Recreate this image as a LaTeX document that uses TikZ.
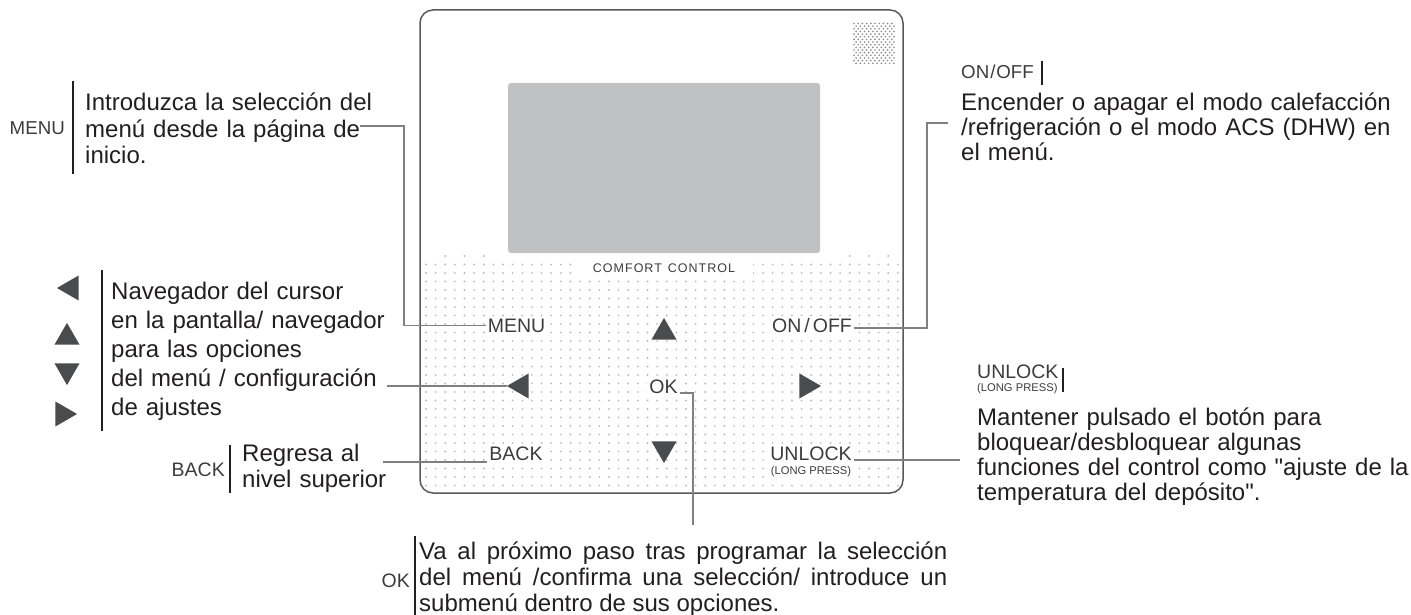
\documentclass[tikz,border=0pt]{standalone}
\usepackage{fontspec}
\setmainfont[Ligatures=TeXOff]{Liberation Sans}
\newfontfamily\brandfont[LetterSpace=8]{Liberation Sans}
\usetikzlibrary{shapes.geometric}
\definecolor{txtc}{HTML}{231F20}
\definecolor{lblc}{HTML}{3C3C3E}
\definecolor{linec}{HTML}{808080}
\definecolor{framec}{HTML}{58595B}
\definecolor{screenc}{HTML}{C0C1C3}
\definecolor{keyc}{HTML}{4A4B4D}
\definecolor{dotc}{HTML}{BDBDBD}
\definecolor{grillc}{HTML}{8F8F8F}
\begin{document}
\begin{tikzpicture}[x=1pt, y=-1pt,
        desc/.style={anchor=base west, inner sep=0, text=txtc, align=left},
        keylbl/.style={inner sep=0, text=lblc, font=\fontsize{18.7}{20}\selectfont},
        btn/.style={fill=white, inner sep=2pt, text=lblc, font=\fontsize{19.5}{21}\selectfont},
        tri/.style={regular polygon, regular polygon sides=3, minimum size=28.9pt, inner sep=0, fill=keyc},
        conn/.style={draw=linec, line width=1.3pt},
        bar/.style={draw=txtc, line width=1.2pt}]
    \useasboundingbox (0,0) rectangle (1411,615);

    % the controller
    \draw[framec, line width=1.5pt, rounded corners=13pt] (420,10) rectangle (903,493);
    \foreach \i in {0,...,49} {
        \foreach \j in {1,...,27} {
            \fill[dotc] (426+\i*9.63, 256+\j*8.5) circle [radius = 1.05pt];
        }
    }
    \foreach \i in {2,4,6,44,46,48} {
        \fill[dotc] (426+\i*9.63, 256) circle [radius = 1.05pt];
    }
    \fill[screenc, rounded corners=3pt] (508,83) rectangle (820,253);
    \foreach \i in {0,...,9} {
        \foreach \j in {0,...,15} {
            \fill[grillc] ({854+\i*4.2+mod(\j,2)*2.1}, {23.5+\j*2.65}) circle [radius = 0.95pt];
        }
    }
    \node[fill=white, inner xsep=18pt, inner ysep=4pt, text=lblc,
        font=\brandfont\fontsize{12.5}{14}\selectfont] (brand) at (664,268) {COMFORT\hspace{6pt}CONTROL};

    \node[btn, anchor=base] (btnmenu) at (516.5,332) {MENU};
    \node[tri] (kup) at (664,332.4) {};
    \node[btn, anchor=base] (btnonoff) at (812,332) {ON\kern3pt/\kern3pt OFF};
    \node[tri, shape border rotate=90] (kleft) at (521.4,386) {};
    \node[btn, anchor=base] (btnok) at (663.5,393) {OK};
    \node[tri, shape border rotate=-90] (kright) at (806.6,386) {};
    \node[btn, anchor=base] (btnback) at (516,460) {BACK};
    \node[tri, shape border rotate=180] (kdown) at (664,448.6) {};
    \node[btn, anchor=base] (btnunlock) at (811,460) {UNLOCK};
    \node[btn, anchor=base, font=\fontsize{11.2}{12}\selectfont] (btnlong) at (811,474) {(LONG PRESS)};

    % MENU
    \node[keylbl, anchor=east] (lblmenu) at (65,128) {MENU};
    \draw[bar] (73,81) -- (73,174);
    \node[desc, text width=300pt, font=\fontsize{24}{26.5}\selectfont] (descmenu) at (85,111)
        {Introduzca la selección del\\menú desde la página de\\inicio.};
    \coordinate (menuend) at (360,126);

    % cursor keys
    \node[tri, shape border rotate=90] (iconleft) at (71.4,288) {};
    \node[tri] (iconup) at (67,337.4) {};
    \node[tri, shape border rotate=180] (icondown) at (67,370.6) {};
    \node[tri, shape border rotate=-90] (iconright) at (62.6,414) {};
    \draw[bar] (102,270) -- (102,431);
    \node[desc, text width=300pt, font=\fontsize{24}{29}\selectfont] (descnav) at (111,299.5)
        {Navegador del cursor\\en la pantalla/ navegador\\para las opciones\\del menú / configuración\\de ajustes};
    \coordinate (navend) at (387,386);

    % BACK
    \node[keylbl, anchor=base east, font=\fontsize{19.5}{21}\selectfont] (lblback) at (225,476) {BACK};
    \draw[bar] (230,445) -- (230,493);
    \node[desc, text width=220pt, font=\fontsize{24}{26}\selectfont] (descback) at (242,461)
        {Regresa al\\nivel superior};
    \coordinate (backend) at (383,462);

    % ON/OFF
    \node[keylbl, anchor=base west] (lbloff) at (961,78.5) {ON\kern1pt/\kern1pt OFF};
    \draw[bar] (1042,61) -- (1042,85);
    \node[desc, text width=480pt, font=\fontsize{24}{25}\selectfont] (descoff) at (961,111)
        {Encender o apagar el modo calefacción\\/refrigeración o el modo ACS (DHW) en\\el menú.};
    \coordinate (onoffend) at (948,123);

    % UNLOCK
    \node[keylbl, anchor=base west, font=\fontsize{19.5}{21}\selectfont] (lblunlock) at (977,378.5) {UNLOCK};
    \node[keylbl, anchor=base west, font=\fontsize{11.2}{12}\selectfont] (lbllong) at (977,391) {(LONG PRESS)};
    \draw[bar] (1063,368) -- (1063,392);
    \node[desc, text width=480pt, font=\fontsize{24}{25.3}\selectfont] (descunlock) at (977,425)
        {Mantener pulsado el botón para\\bloquear/desbloquear algunas\\funciones del control como "ajuste de la\\temperatura del depósito".};
    \coordinate (unlockend) at (960,460);

    % OK
    \node[keylbl, anchor=base east, font=\fontsize{19.5}{21}\selectfont] (lblok) at (410,587) {OK};
    \draw[bar] (415,536) -- (415,615);
    \node[desc, text width=528pt, align=justify, font=\fontsize{24}{26}\selectfont] (descok) at (419,559)
        {Va al próximo paso tras programar la selección\linebreak del menú /confirma una selección/ introduce un\linebreak submenú dentro de sus opciones.};
    \coordinate (okend) at (693,525);

    % connectors
    \draw[conn] (menuend) -- ++(44,0) |- (btnmenu.west);
    \draw[conn] ([yshift=-3pt]btnonoff.east) -| ([xshift=-21pt]onoffend) -- (onoffend);
    \draw[conn] (navend) -- (kleft.corner 1);
    \draw[conn] (btnok.base east) -| (okend);
    \draw[conn] (backend) -- (backend -| btnback.west);
    \draw[conn] (btnunlock.base east) -- (btnunlock.base east -| unlockend);
\end{tikzpicture}
\end{document}
